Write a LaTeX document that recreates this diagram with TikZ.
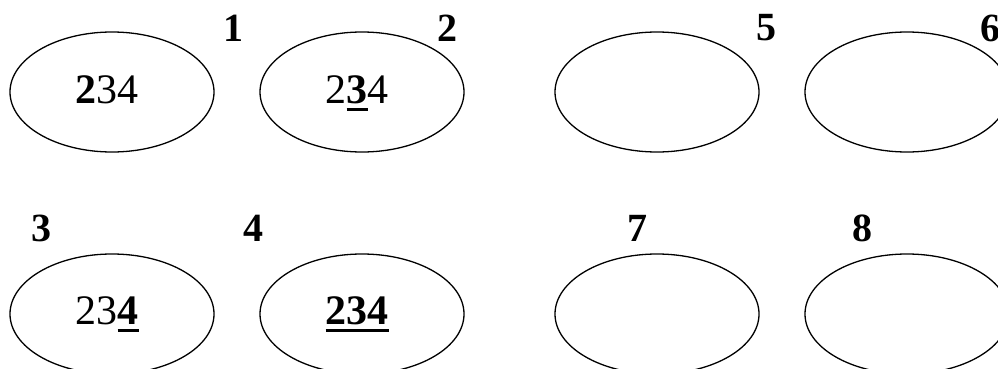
\documentclass[tikz,border=0pt]{standalone}
\usepackage{fontspec}
\setmainfont{Liberation Serif}
\usetikzlibrary{shapes.geometric}
\newsavebox\ulbox
\newcommand\ulb[1]{\sbox\ulbox{#1}\rlap{\rule[-8pt]{\wd\ulbox}{3.5pt}}\usebox\ulbox}
\tikzset{
  oval/.style={ellipse, draw, line width=1.3pt, minimum width=204pt, minimum height=120pt, inner sep=0pt},
  digits/.style={font=\fontsize{42}{42}\selectfont, inner sep=0pt, anchor=base},
  numlabel/.style={font=\fontsize{40}{40}\selectfont\bfseries, inner sep=0pt, anchor=center}
}
\begin{document}
\begin{tikzpicture}[x=1pt,y=-1pt]
\useasboundingbox (0,0) rectangle (998,369);
\node[oval] (e1) at (112,92) {};
\node[oval] (e2) at (362,92) {};
\node[oval] (e5) at (657,92) {};
\node[oval] (e6) at (907,92) {};
\node[oval] (e3) at (112,314) {};
\node[oval] (e4) at (362,314) {};
\node[oval] (e7) at (657,314) {};
\node[oval] (e8) at (907,314) {};
\node[digits] (t1) at ([shift={(-5,11)}]e1.center) {\textbf{2}34};
\node[digits] (t2) at ([shift={(-5,11)}]e2.center) {2\ulb{\textbf{3}}4};
\node[digits] (t3) at ([shift={(-5,10)}]e3.center) {23\ulb{\textbf{4}}};
\node[digits] (t4) at ([shift={(-5,10)}]e4.center) {\ulb{\textbf{234}}};
\node[numlabel] (l1) at (233,28) {1};
\node[numlabel] (l2) at (447,28) {2};
\node[numlabel] (l5) at (766,28) {5};
\node[numlabel] (l6) at (990,28) {6};
\node[numlabel] (l3) at (41,228) {3};
\node[numlabel] (l4) at (253,228) {4};
\node[numlabel] (l7) at (637,228) {7};
\node[numlabel] (l8) at (862,228) {8};
\end{tikzpicture}
\end{document}
